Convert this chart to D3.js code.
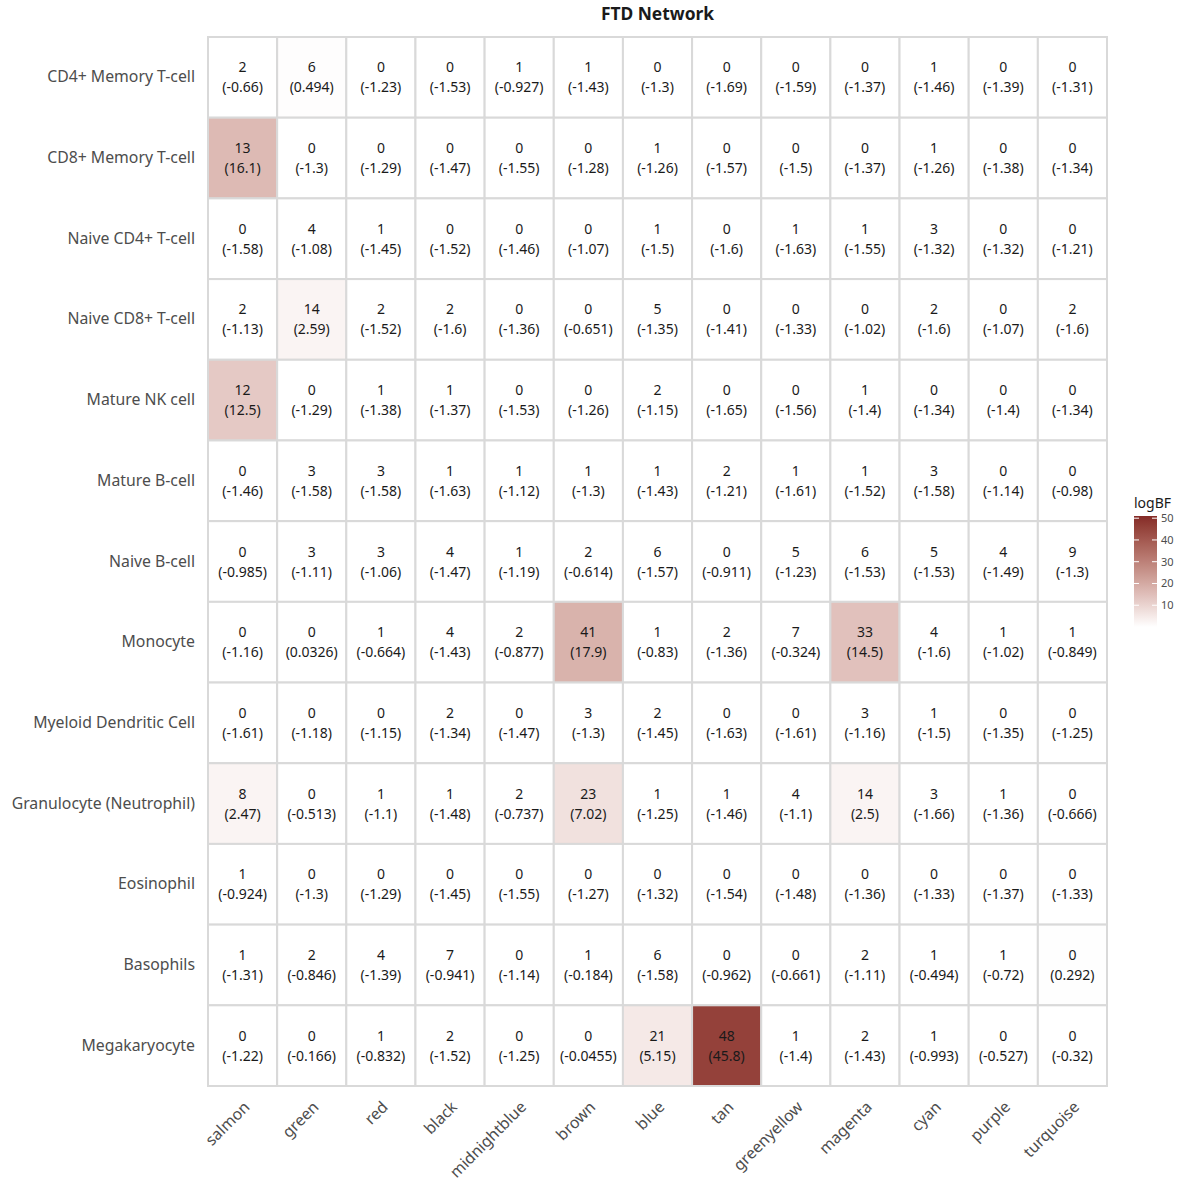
<!DOCTYPE html>
<html>
<head>
<meta charset="utf-8">
<script src="https://cdn.jsdelivr.net/npm/d3@7"></script>
<style>
  body { margin: 0; background: #fff; }
  svg { font-family: "Noto Sans", "Open Sans", sans-serif; }
</style>
</head>
<body>
<svg id="chart" width="1185" height="1181"></svg>
<script>
// Modules (columns) and cell types (rows)
const modules = ["salmon", "green", "red", "black", "midnightblue", "brown", "blue",
  "tan", "greenyellow", "magenta", "cyan", "purple", "turquoise"];

const cellTypes = ["CD4+ Memory T-cell", "CD8+ Memory T-cell", "Naive CD4+ T-cell",
  "Naive CD8+ T-cell", "Mature NK cell", "Mature B-cell", "Naive B-cell", "Monocyte",
  "Myeloid Dendritic Cell", "Granulocyte (Neutrophil)", "Eosinophil", "Basophils",
  "Megakaryocyte"];

// Overlap counts, one row per cell type
const counts = [
  [2, 6, 0, 0, 1, 1, 0, 0, 0, 0, 1, 0, 0],
  [13, 0, 0, 0, 0, 0, 1, 0, 0, 0, 1, 0, 0],
  [0, 4, 1, 0, 0, 0, 1, 0, 1, 1, 3, 0, 0],
  [2, 14, 2, 2, 0, 0, 5, 0, 0, 0, 2, 0, 2],
  [12, 0, 1, 1, 0, 0, 2, 0, 0, 1, 0, 0, 0],
  [0, 3, 3, 1, 1, 1, 1, 2, 1, 1, 3, 0, 0],
  [0, 3, 3, 4, 1, 2, 6, 0, 5, 6, 5, 4, 9],
  [0, 0, 1, 4, 2, 41, 1, 2, 7, 33, 4, 1, 1],
  [0, 0, 0, 2, 0, 3, 2, 0, 0, 3, 1, 0, 0],
  [8, 0, 1, 1, 2, 23, 1, 1, 4, 14, 3, 1, 0],
  [1, 0, 0, 0, 0, 0, 0, 0, 0, 0, 0, 0, 0],
  [1, 2, 4, 7, 0, 1, 6, 0, 0, 2, 1, 1, 0],
  [0, 0, 1, 2, 0, 0, 21, 48, 1, 2, 1, 0, 0]
];

// log Bayes factors, one row per cell type
const logBF = [
  [-0.66, 0.494, -1.23, -1.53, -0.927, -1.43, -1.3, -1.69, -1.59, -1.37, -1.46, -1.39, -1.31],
  [16.1, -1.3, -1.29, -1.47, -1.55, -1.28, -1.26, -1.57, -1.5, -1.37, -1.26, -1.38, -1.34],
  [-1.58, -1.08, -1.45, -1.52, -1.46, -1.07, -1.5, -1.6, -1.63, -1.55, -1.32, -1.32, -1.21],
  [-1.13, 2.59, -1.52, -1.6, -1.36, -0.651, -1.35, -1.41, -1.33, -1.02, -1.6, -1.07, -1.6],
  [12.5, -1.29, -1.38, -1.37, -1.53, -1.26, -1.15, -1.65, -1.56, -1.4, -1.34, -1.4, -1.34],
  [-1.46, -1.58, -1.58, -1.63, -1.12, -1.3, -1.43, -1.21, -1.61, -1.52, -1.58, -1.14, -0.98],
  [-0.985, -1.11, -1.06, -1.47, -1.19, -0.614, -1.57, -0.911, -1.23, -1.53, -1.53, -1.49, -1.3],
  [-1.16, 0.0326, -0.664, -1.43, -0.877, 17.9, -0.83, -1.36, -0.324, 14.5, -1.6, -1.02, -0.849],
  [-1.61, -1.18, -1.15, -1.34, -1.47, -1.3, -1.45, -1.63, -1.61, -1.16, -1.5, -1.35, -1.25],
  [2.47, -0.513, -1.1, -1.48, -0.737, 7.02, -1.25, -1.46, -1.1, 2.5, -1.66, -1.36, -0.666],
  [-0.924, -1.3, -1.29, -1.45, -1.55, -1.27, -1.32, -1.54, -1.48, -1.36, -1.33, -1.37, -1.33],
  [-1.31, -0.846, -1.39, -0.941, -1.14, -0.184, -1.58, -0.962, -0.661, -1.11, -0.494, -0.72, 0.292],
  [-1.22, -0.166, -0.832, -1.52, -1.25, -0.0455, 5.15, 45.8, -1.4, -1.43, -0.993, -0.527, -0.32]
];

const legendTicks = [10, 20, 30, 40, 50];

const svg = d3.select("#chart");
const plotLeft = 208, plotRight = 1107, plotTop = 37, plotBottom = 1086;

const x = d3.scaleBand().domain(modules).range([plotLeft, plotRight]);
const y = d3.scaleBand().domain(cellTypes).range([plotTop, plotBottom]);

// white for non-positive evidence, deepening to dark red
const color = d3.scaleLinear()
  .domain([0, 51])
  .range(["#ffffff", "#852b27"])
  .interpolate(d3.interpolateLab)
  .clamp(true);

const cells = [];
cellTypes.forEach((ct, i) => modules.forEach((m, j) => {
  cells.push({ row: ct, col: m, n: counts[i][j], bf: logBF[i][j] });
}));

const g = svg.append("g");
g.selectAll("rect.cell").data(cells).join("rect")
  .attr("class", "cell")
  .attr("x", d => x(d.col))
  .attr("y", d => y(d.row))
  .attr("width", x.bandwidth())
  .attr("height", y.bandwidth())
  .attr("fill", d => color(d.bf))
  .attr("stroke", "#d9d9d9")
  .attr("stroke-width", 2);

const labels = g.selectAll("text.cell").data(cells).join("text")
  .attr("class", "cell")
  .attr("text-anchor", "middle")
  .attr("font-size", 14)
  .attr("fill", "#1a1a1a");
labels.append("tspan")
  .attr("x", d => x(d.col) + x.bandwidth() / 2)
  .attr("y", d => y(d.row) + y.bandwidth() / 2 - 5)
  .text(d => d.n);
labels.append("tspan")
  .attr("x", d => x(d.col) + x.bandwidth() / 2)
  .attr("y", d => y(d.row) + y.bandwidth() / 2 + 15)
  .text(d => "(" + d.bf + ")");

// Row axis
const yAxis = svg.append("g")
  .attr("transform", `translate(${plotLeft},0)`)
  .call(d3.axisLeft(y).tickSize(0).tickPadding(13));
yAxis.select(".domain").remove();
yAxis.selectAll("text")
  .attr("font-size", 15.8)
  .attr("font-family", "Noto Sans, Open Sans, sans-serif")
  .attr("fill", "#4d4d4d");

// Column axis, rotated labels
const xAxis = svg.append("g")
  .attr("transform", `translate(0,${plotBottom})`)
  .call(d3.axisBottom(x).tickSize(0).tickPadding(0));
xAxis.select(".domain").remove();
xAxis.selectAll("text")
  .attr("font-size", 15.8)
  .attr("font-family", "Noto Sans, Open Sans, sans-serif")
  .attr("fill", "#4d4d4d")
  .attr("text-anchor", "end")
  .attr("dy", "0")
  .attr("transform", "translate(8,22) rotate(-45)");

// Title
svg.append("text")
  .attr("x", (plotLeft + plotRight) / 2)
  .attr("y", 20)
  .attr("text-anchor", "middle")
  .attr("font-size", 17.4)
  .attr("font-weight", "bold")
  .attr("fill", "#1a1a1a")
  .text("FTD Network");

// Colour bar legend
const lgX = 1134, lgW = 23, lgTop = 516, lgBottom = 627;
const ly = d3.scaleLinear().domain(color.domain()).range([lgBottom, lgTop]);
const defs = svg.append("defs");
const grad = defs.append("linearGradient")
  .attr("id", "lg").attr("x1", 0).attr("x2", 0).attr("y1", 1).attr("y2", 0);
d3.range(0, 1.0001, 0.05).forEach(t => {
  const v = color.domain()[0] + t * (color.domain()[1] - color.domain()[0]);
  grad.append("stop").attr("offset", t).attr("stop-color", color(v));
});
svg.append("rect")
  .attr("x", lgX).attr("y", lgTop)
  .attr("width", lgW).attr("height", lgBottom - lgTop)
  .attr("fill", "url(#lg)");
const lt = svg.append("g");
legendTicks.forEach(v => {
  lt.append("line").attr("x1", lgX).attr("x2", lgX + 5)
    .attr("y1", ly(v)).attr("y2", ly(v)).attr("stroke", "#fff").attr("stroke-width", 1);
  lt.append("line").attr("x1", lgX + lgW - 5).attr("x2", lgX + lgW)
    .attr("y1", ly(v)).attr("y2", ly(v)).attr("stroke", "#fff").attr("stroke-width", 1);
  lt.append("text").attr("x", lgX + lgW + 4).attr("y", ly(v) + 4)
    .attr("font-size", 11).attr("fill", "#4d4d4d").text(v);
});
svg.append("text")
  .attr("x", lgX).attr("y", 508)
  .attr("font-size", 14).attr("fill", "#1a1a1a")
  .text("logBF");
</script>
</body>
</html>
